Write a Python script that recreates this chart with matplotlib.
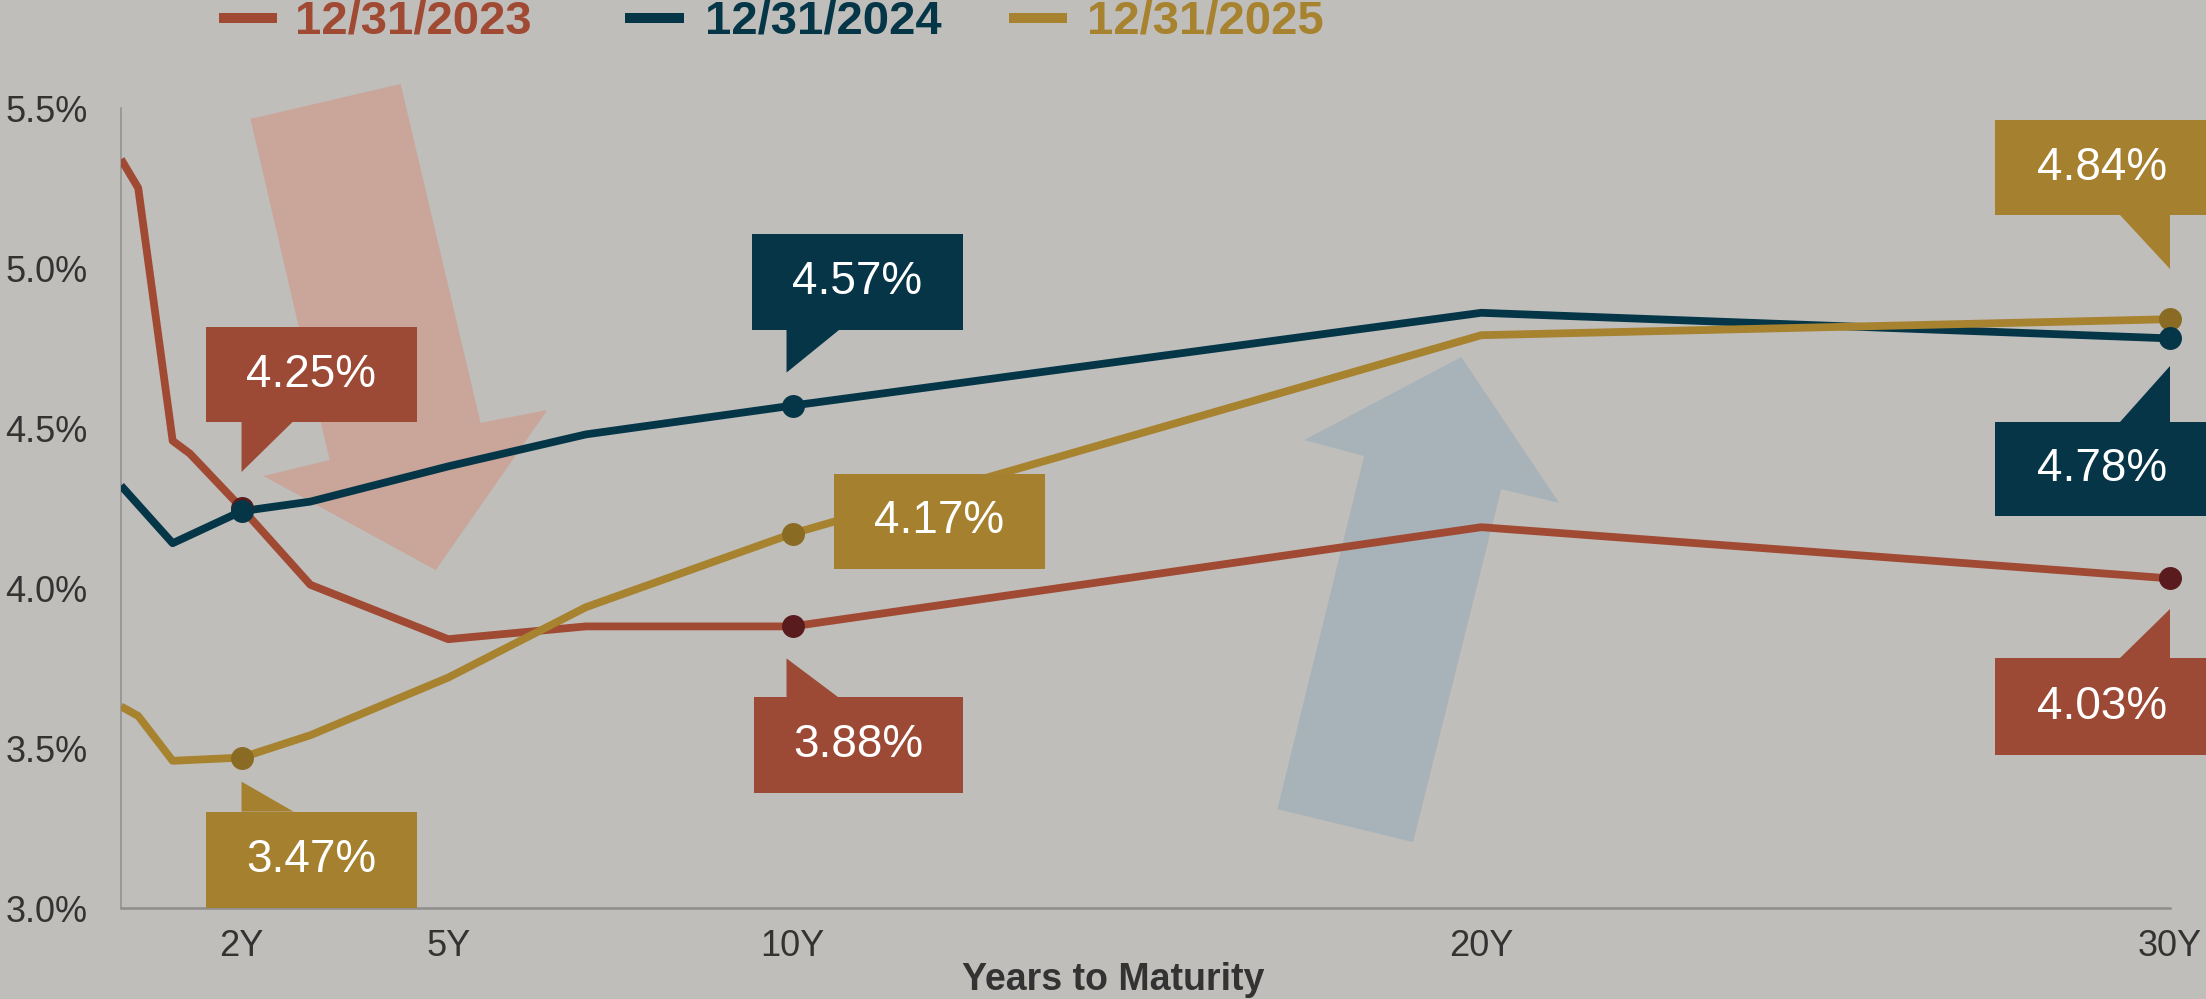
import matplotlib
matplotlib.use("Agg")
import matplotlib.pyplot as plt
import matplotlib.transforms as mtransforms
from matplotlib.patches import Polygon
from matplotlib.lines import Line2D

# ---- data (yields in %, maturities in years) ----
mat = [0.25, 0.5, 1, 2, 3, 5, 7, 10, 20, 30]
mat_2023 = [0.25, 0.5, 1, 1.25, 2, 3, 5, 7, 10, 20, 30]
y2023 = [5.34, 5.25, 4.46, 4.42, 4.25, 4.01, 3.84, 3.88, 3.88, 4.19, 4.03]
y2024 = [4.32, 4.26, 4.14, 4.24, 4.27, 4.38, 4.48, 4.57, 4.86, 4.78]
y2025 = [3.63, 3.60, 3.46, 3.47, 3.54, 3.72, 3.94, 4.17, 4.79, 4.84]

series_labels = ["12/31/2023", "12/31/2024", "12/31/2025"]
marker_mats = [2, 10, 30]

x_ticks = [2, 5, 10, 20, 30]
x_ticklabels = ["2Y", "5Y", "10Y", "20Y", "30Y"]
y_ticks = [3.0, 3.5, 4.0, 4.5, 5.0, 5.5]
y_ticklabels = ["3.0%", "3.5%", "4.0%", "4.5%", "5.0%", "5.5%"]

# callouts: (series, maturity, text)
callout_points = [(0, 2, "4.25%"), (1, 10, "4.57%"), (2, 10, "4.17%"),
                  (0, 10, "3.88%"), (2, 2, "3.47%"), (2, 30, "4.84%"),
                  (1, 30, "4.78%"), (0, 30, "4.03%")]

# ---- style ----
BG = "#c0beba"
LINE_C = ["#a04a34", "#053648", "#a7822f"]
BOX_C = ["#9c4a35", "#063548", "#a5802f"]
DOT_C = ["#5a1b1e", "#053648", "#8a6b24"]
FONT = "Liberation Sans"

W, H = 2206, 999
fig = plt.figure(figsize=(W / 100, H / 100), dpi=100, facecolor=BG)
ax = fig.add_axes([121 / W, (H - 908) / H, (2170 - 121) / W, 800 / H])
ax.set_facecolor(BG)
ax.set_xlim(0.25, 30)
ax.set_ylim(3.0, 5.5)

# big background arrows (data coords)
pink_arrow = [(2.13, 5.466), (4.31, 5.575), (5.47, 4.516), (6.44, 4.556),
              (4.82, 4.056), (2.32, 4.35), (3.28, 4.40)]
blue_arrow = [(17.04, 3.309), (19.01, 3.206), (20.29, 4.309), (21.13, 4.266),
              (19.71, 4.722), (17.43, 4.4625), (18.30, 4.4125)]
ax.add_patch(Polygon(pink_arrow, closed=True, fc="#c9a59a", ec="none", zorder=1, clip_on=False))
ax.add_patch(Polygon(blue_arrow, closed=True, fc="#a7b3b9", ec="none", zorder=1, clip_on=False))

xs = [mat_2023, mat, mat]
ys = [y2023, y2024, y2025]
for i in range(3):
    ax.plot(xs[i], ys[i], color=LINE_C[i], lw=5.6, zorder=3,
            solid_joinstyle="round", solid_capstyle="butt")

# markers (navy drawn last so it sits on the 2Y crossing)
for i in [0, 2, 1]:
    my = [ys[i][xs[i].index(m)] for m in marker_mats]
    ax.plot(marker_mats, my, ls="none", marker="o", ms=15.5, color=DOT_C[i],
            mec=DOT_C[i], zorder=4, clip_on=False)

# callout shapes in pixels relative to the point: box (x0, x1, y0, y1), pointer
shapes = {
    "4.25%": ((-36, 175, 86, 181), [(0, 86), (51, 86), (0, 36)]),
    "4.57%": ((-41, 170, 76, 172), [(-6, 76), (47, 76), (-6, 33)]),
    "4.17%": ((41, 252, -35, 60), None),
    "3.88%": ((-39, 170, -167, -71), [(-6, -71), (46, -71), (-6, -32)]),
    "3.47%": ((-36, 175, -150, -54), [(0, -54), (52, -54), (0, -24)]),
    "4.84%": ((-175, 40, 104, 199), [(-50, 104), (0, 104), (0, 50)]),
    "4.78%": ((-175, 40, -178, -84), [(-50, -84), (0, -84), (0, -28)]),
    "4.03%": ((-175, 40, -177, -80), [(-50, -80), (0, -80), (0, -31)]),
}
for si, m, txt in callout_points:
    yv = ys[si][xs[si].index(m)]
    tr = fig.dpi_scale_trans + mtransforms.ScaledTranslation(m, yv, ax.transData)
    (x0, x1, y0, y1), ptr = shapes[txt]
    box = [(x0, y0), (x1, y0), (x1, y1), (x0, y1)]
    ax.add_patch(Polygon([(a / 100, b / 100) for a, b in box], closed=True,
                         fc=BOX_C[si], ec="none", transform=tr, zorder=5, clip_on=False))
    if ptr:
        ax.add_patch(Polygon([(a / 100, b / 100) for a, b in ptr], closed=True,
                             fc=BOX_C[si], ec="none", transform=tr, zorder=5, clip_on=False))
    ax.text((x0 + x1) / 200, (y0 + y1) / 200, txt, transform=tr, ha="center",
            va="center", color="white", fontsize=33, family=FONT, zorder=6)

# axes styling
for s in ["top", "right"]:
    ax.spines[s].set_visible(False)
ax.spines["left"].set_color("#8e8e8e")
ax.spines["left"].set_linewidth(1.1)
ax.spines["bottom"].set_color("#8e8e8e")
ax.spines["bottom"].set_linewidth(1.8)
ax.set_xticks(x_ticks)
ax.set_xticklabels(x_ticklabels)
ax.set_yticks(y_ticks)
ax.set_yticklabels(y_ticklabels)
ax.tick_params(axis="x", length=0, pad=15, labelsize=26, labelcolor="#333333")
ax.tick_params(axis="y", length=0, pad=24, labelsize=26, labelcolor="#333333")
for lab in ax.get_xticklabels() + ax.get_yticklabels():
    lab.set_family(FONT)

fig.text(1113 / W, (H - 990) / H, "Years to Maturity", ha="center", va="baseline",
         fontsize=27, fontweight="bold", color="#333333", family=FONT)

# legend along the top
leg_x = [(219, 277, 295), (625, 684, 705), (1009, 1067, 1087)]
for i, (a, b, t) in enumerate(leg_x):
    fig.add_artist(Line2D([a / W, b / W], [(H - 18) / H] * 2, transform=fig.transFigure,
                          color=LINE_C[i], lw=7.2, solid_capstyle="butt"))
    fig.text(t / W, (H - 21) / H, series_labels[i], ha="left", va="center",
             fontsize=34, fontweight="bold", color=LINE_C[i], family=FONT)

fig.savefig("out.png", dpi=100, facecolor=BG)
